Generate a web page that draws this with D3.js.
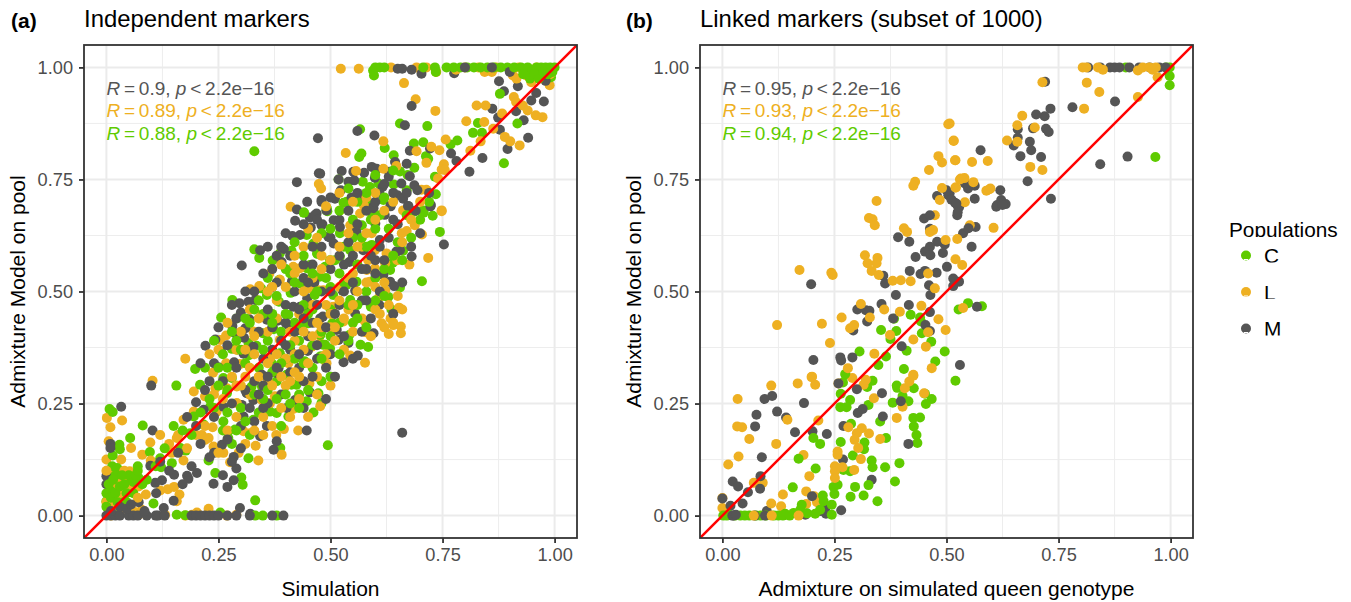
<!DOCTYPE html>
<html>
<head>
<meta charset="utf-8">
<script src="https://cdn.jsdelivr.net/npm/d3@7"></script>
<style>
body { margin: 0; background: #fff; }
text { font-family: "Liberation Sans", Arial, sans-serif; }
</style>
</head>
<body>
<div id="chart"></div>
<script>
const tickValues = [0, 0.25, 0.5, 0.75, 1];
const minorValues = [0.125, 0.375, 0.625, 0.875];
const populations = ["C", "L", "M"];
const colors = { C: "#5fcb00", L: "#eeb022", M: "#555555" };

// panel a, population M
const aGrey = [[.472,.842],[.474,.764],[.425,.744],[.876,.969],[.887,.947],[.918,.958],[.959,.943],[.948,.926],[.976,.924],[.861,.908],[.914,.902],[.874,.888],[.931,.882],[.878,.861],[.941,.843],[.895,.818],[.839,.798],[.769,.808],[.781,.791],[.81,.767],[.65,.997],[.66,.997],[.681,.995],[.703,.986],[.776,.987],[.681,.914],[.666,.871],[.56,.858],[.598,.848],[.677,.814],[.722,.819],[.644,.789],[.67,.785],[.525,.769],[.592,.778],[.603,.774],[.575,.765],[.551,.767],[.477,.763],[.631,.767],[.63,.756],[.599,.754],[.518,.75],[.54,.745],[.553,.748],[.677,.757],[.658,.741],[.687,.737],[.694,.726],[.616,.733],[.609,.72],[.523,.726],[.51,.707],[.547,.71],[.573,.705],[.649,.715],[.662,.707],[.634,.691],[.724,.693],[.673,.691],[.595,.689],[.48,.704],
[.302,.558],[.343,.592],[.425,.683],[.421,.658],[.448,.7],[.454,.665],[.469,.674],[.456,.643],[.482,.65],[.415,.624],[.432,.626],[.396,.595],[.391,.566],[.414,.523],[.462,.522],[.369,.509],[.297,.474],[.317,.477],[.332,.481],[.3,.453],[.319,.438],[.281,.423],[.31,.418],[.287,.407],[.307,.397],[.243,.393],[.221,.379],[.256,.366],[.285,.342],[.25,.331],[.306,.361],[.328,.377],[.358,.437],[.382,.435],[.406,.425],[.417,.466],[.448,.485],[.432,.466],[.477,.44],[.428,.414],[.41,.37],[.449,.368],[.421,.351],[.384,.329],[.48,.7],[.495,.622],[.491,.681],
[.723,.69],[.753,.605],[.681,.578],[.655,.592],[.618,.537],[.633,.522],[.642,.512],[.609,.47],[.596,.407],[.561,.357],[.529,.342],[.518,.392],[.54,.385],[.555,.451],[.555,.502],[.527,.502],[.464,.52],[.483,.444],[.514,.414],[.449,.368],[.542,.566],[.507,.607],[.521,.644],[.558,.633],[.507,.659],[.6,.652],[.621,.671],[.64,.66],[.596,.686],[.634,.69],[.674,.69],[.466,.671],[.454,.641],[.48,.648],[.61,.615],[.573,.592],[.647,.589],[.447,.466],
[.033,.243],[.1,.29],[.103,.19],[.009,.16],[.009,.151],[.098,.111],[0,.088],[0,.07],[.124,.079],[.109,.073],[.111,.05],[.151,.091],[.18,.089],[.183,.082],[.202,.095],[.239,.071],[.27,.064],[.284,.079],[.29,.105],[.284,.131],[.258,.158],[.24,.14],[.072,.03],[.15,.033],[.128,.017],[.298,.017],[.321,.004],[.261,.243],[.302,.247],[.328,.258],[.2,.253],[.313,.273],[.217,.236],[.306,.221],[.343,.177],[.358,.2],[.373,.147],[.38,.166],[.447,.19],[.454,.275],[.402,.24],[.421,.258],[.347,.314],[.38,.318],[.66,.185],
[.35,.35],[.37,.37],[.39,.39],[.41,.32],[.43,.33],[.47,.35],[.5,.36],[.52,.47],[.5,.55],[.46,.43],[.48,.5],[.53,.56],[.55,.58],[.44,.56],[.46,.6],[.4,.47],[.37,.42],[.35,.29],[.39,.27],[.33,.21],[.36,.25],[.44,.3],[.49,.33],[.58,.55],[.57,.48],[.6,.57],
[.26,.3],[.28,.25],[.24,.22],[.3,.2],[.27,.17],[.33,.3],[.35,.24],[.31,.28],[.29,.33],[.34,.41],[.36,.46],[.38,.52],[.4,.43],[.42,.5],[.44,.53],[.41,.58],[.43,.46],[.45,.4],[.47,.38],[.49,.42],[.51,.45],[.53,.5],[.55,.52],[.57,.55],[.59,.58],[.61,.6],[.63,.62],[.65,.65],[.5,.5],[.52,.58],[.54,.61],[.56,.65],[.58,.68],[.6,.7],[.62,.74],[.48,.6],[.46,.56],[.5,.62],[.52,.66],[.44,.44],[.42,.41],[.4,.38],[.38,.33],[.36,.31],[.34,.27],[.32,.24],[.3,.15],[.28,.12],[.26,.09],[.23,.13],[.21,.16],[.19,.11],[.17,.07],[.2,.2],[.22,.28],[.18,.22],[.16,.14],[.14,.1],[.12,.12],[.24,.34],[.27,.38],[.29,.44],[.33,.5],[.37,.55],[.39,.6],[.35,.54],[.55,.35],[.57,.41],[.59,.44],[.61,.5],[.53,.4],[.51,.31],[.49,.26],[.46,.31],[.44,.24],[.43,.36],[.45,.52],[.47,.47],[.58,.48],[.6,.54],[.62,.57],[.64,.45],[.66,.52],[.68,.6],[.7,.63],[.72,.72],[.67,.72],[.69,.68],[.64,.72],[.56,.72],[.54,.68],[.5,.71],[.47,.66],[.44,.65],[.4,.63],[.38,.58],[.36,.6],[.31,.5],[.28,.47],[.25,.42],[.23,.3],[.21,.34],
[0,0],[.01,0],[.02,0],[.03,0],[.05,0],[.06,0],[.07,0],[.09,0],[.11,0],[.115,0],[.13,0],[.19,0],[.2,0],[.21,0],[.22,0],[.23,0],[.24,0],[.25,0],[.27,0],[.29,0],[.32,0],[.37,0],[.395,0],[.01,.01],[.03,.02],[.045,.015],[.055,.025],[.085,.01],[.8,1],[.86,1],[.9,.99],[.955,.99],[.98,.97]];

// panel a, population L
const aOrange = [[.523,.997],[.563,.997],[.635,1],[.692,1],[.714,1],[.736,.99],[.844,.99],[.86,.99],[.907,.982],[.915,.975],[.937,.982],[.948,.967],[.989,.96],[.664,.965],[.69,.929],[.734,.903],[.826,.915],[.846,.915],[.909,.934],[.914,.923],[.929,.915],[.94,.904],[.803,.88],[.843,.878],[.883,.897],[.958,.893],[.973,.889],[.863,.863],[.889,.845],[.901,.835],[.922,.826],[.835,.835],[.812,.814],[.757,.839],[.725,.823],[.743,.815],[.692,.813],[.618,.835],[.534,.809],[.714,.787],[.753,.784],[.748,.772],[.755,.771],[.647,.78],[.618,.774],[.557,.769],[.703,.727],[.714,.727],[.74,.752],[.479,.73],[.748,.681],[.662,.681],[.474,.74],
[.411,.689],[.363,.539],[.341,.512],[.321,.505],[.347,.448],[.328,.411],[.267,.402],[.254,.392],[.176,.35],[.267,.34],[.298,.338],[.387,.392],[.387,.526],[.365,.451],[.451,.507],[.484,.503],[.417,.555],[.432,.552],[.477,.385],[.458,.377],[.406,.34],[.365,.351],[.491,.34],[.336,.481],
[.748,.679],[.688,.648],[.704,.627],[.659,.63],[.67,.635],[.718,.575],[.676,.56],[.625,.585],[.649,.57],[.622,.563],[.584,.57],[.599,.552],[.581,.548],[.588,.522],[.622,.503],[.607,.485],[.653,.464],[.634,.44],[.614,.429],[.64,.425],[.657,.422],[.63,.405],[.657,.407],[.578,.409],[.577,.433],[.506,.466],[.544,.357],[.577,.341],[.476,.407],[.484,.355],[.529,.433],[.566,.674],[.521,.681],[.574,.693],[.544,.648],[.454,.511],[.473,.503],[.599,.592],[.592,.63],
[.103,.301],[.001,.218],[.035,.212],[.009,.197],[.005,.166],[.055,.151],[.098,.163],[0,.125],[.033,.125],[.052,.099],[.08,.136],[.099,.123],[.011,.091],[.072,.065],[.088,.047],[.12,.056],[.137,.059],[.151,.064],[.163,.047],[.157,.032],[.005,.022],[.027,.047],[.031,.028],[.079,.013],[.072,.002],[.131,.002],[.176,0],[.191,.002],[.202,.007],[.228,.015],[.269,0],[.29,.002],[.157,.173],[.172,.214],[.195,.232],[.22,.169],[.213,.18],[.228,.173],[.172,.123],[.146,.14],[.195,.277],[.238,.319],[.243,.284],[.22,.266],[.269,.284],[.246,.232],[.237,.197],[.261,.14],[.276,.119],[.295,.14],[.239,.154],[.306,.188],[.321,.184],[.333,.156],[.339,.123],[.379,.18],[.391,.136],[.396,.193],[.428,.19],[.477,.244],[.453,.295],[.417,.238],[.376,.266],[.347,.258],[.291,.251],[.321,.269],[.291,.288],[.365,.251],
[.36,.3],[.41,.41],[.43,.45],[.46,.47],[.52,.51],[.55,.54],[.57,.6],[.5,.42],[.42,.36],[.38,.44],[.33,.36],[.31,.31],[.29,.37],[.36,.41],[.48,.58],[.44,.6],[.4,.29],[.5,.29],[.54,.46],[.6,.46],[.62,.52],[.47,.27],[.42,.32],
[.25,.14],[.27,.19],[.29,.22],[.31,.16],[.33,.19],[.35,.22],[.37,.2],[.39,.24],[.41,.22],[.43,.26],[.45,.22],[.47,.31],[.49,.36],[.51,.39],[.53,.37],[.55,.41],[.57,.44],[.59,.4],[.61,.45],[.63,.47],[.65,.49],[.6,.51],[.58,.52],[.56,.5],[.54,.53],[.52,.48],[.5,.45],[.48,.42],[.46,.4],[.44,.37],[.42,.39],[.4,.35],[.38,.36],[.36,.34],[.34,.31],[.32,.33],[.3,.29],[.28,.31],[.26,.26],[.24,.27],[.22,.2],[.2,.18],[.18,.15],[.16,.18],[.14,.16],[.12,.18],[.23,.36],[.25,.37],[.27,.43],[.3,.41],[.32,.46],[.34,.44],[.36,.5],[.38,.48],[.4,.51],[.42,.54],[.44,.5],[.46,.53],[.48,.55],[.5,.57],[.52,.6],[.54,.63],[.56,.6],[.58,.63],[.6,.66],[.62,.68],[.64,.7],[.66,.61],[.68,.66],[.7,.7],[.6,.72],[.58,.71],[.55,.7],[.52,.72],[.49,.69],[.47,.62],[.45,.64],[.42,.58],[.39,.56],[.37,.51],[.33,.4],[.31,.37],[.29,.29],[.41,.3],[.43,.31],[.45,.34],[.47,.43],[.49,.47],[.51,.42],[.53,.44],[.55,.47],[.62,.42],[.64,.43],[.66,.46],[.35,.18],[.37,.29],[.39,.31],[.44,.41],
[.01,0],[.025,.005],[.04,.015],[.015,.06],[.02,.075],[.005,.045],[.05,.06],[.035,.08],[.06,.01],[.0,.03],[.0,.1],[.015,.02],[.03,.05],[.04,.1],[.07,.04],[.8,1],[.83,1],[.87,1],[.92,1],[.96,1],[.975,.975],[.99,.985],[.78,.995],[.9,.995],[.94,.995]];

// panel a, population C
const aGreen = [[.33,.813],[.566,.862],[.655,.875],[.716,.869],[.621,.82],[.641,.804],[.686,.83],[.707,.833],[.569,.808],[.564,.8],[.713,.802],[.718,.796],[.768,.828],[.783,.837],[.818,.854],[.838,.854],[.829,.876],[.917,.875],[.887,.786],[.878,.941],[.992,.978],[.687,.776],[.672,.76],[.655,.768],[.733,.756],[.735,.717],[.67,.726],[.641,.739],[.588,.733],[.572,.745],[.607,.741],[.618,.704],[.536,.7],[.518,.75],[.566,.711],[.592,.696],[.492,.685],[.707,.681],
[.33,.594],[.341,.575],[.371,.569],[.413,.591],[.387,.585],[.44,.676],[.447,.626],[.462,.607],[.491,.681],[.471,.584],[.447,.552],[.386,.526],[.345,.507],[.281,.481],[.256,.442],[.291,.44],[.358,.492],[.385,.477],[.411,.497],[.465,.496],[.373,.416],[.349,.407],[.335,.379],[.28,.372],[.292,.37],[.317,.385],[.318,.358],[.198,.327],[.406,.448],[.447,.429],[.477,.403],[.488,.381],[.369,.34],[.442,.344],[.387,.362],[.477,.355],[.432,.518],[.488,.555],[.454,.559],
[.744,.633],[.728,.669],[.708,.676],[.686,.678],[.441,.676],[.662,.591],[.639,.564],[.633,.548],[.704,.523],[.655,.509],[.629,.488],[.636,.46],[.59,.466],[.577,.481],[.544,.481],[.584,.376],[.567,.381],[.542,.403],[.504,.429],[.499,.373],[.48,.355],[.483,.381],[.443,.344],[.477,.403],[.521,.63],[.57,.648],[.493,.679],[.47,.585],[.544,.592],[.521,.578],[.499,.57],[.476,.533],[.447,.526],[.558,.522],[.536,.515],[.465,.492],[.506,.492],[.451,.429],[.592,.604],[.592,.675],[.529,.698],
[.156,.29],[.007,.238],[.014,.231],[.081,.201],[.053,.173],[.029,.158],[.03,.148],[.014,.134],[.097,.142],[.12,.128],[.146,.117],[.122,.108],[.165,.151],[.177,.145],[.013,.11],[.024,.106],[.072,.084],[.053,.08],[.005,.08],[.031,.073],[.016,.065],[.005,.05],[.042,.054],[0,.032],[.016,.032],[.105,.027],[.243,.095],[.228,.123],[.301,.085],[.304,.069],[.332,.034],[.317,.128],[.388,.151],[.494,.157],[.462,.23],[.48,.251],[.473,.273],[.447,.255],[.406,.221],[.38,.229],[.365,.232],[.328,.214],[.272,.173],[.272,.188],[.287,.192],[.261,.21],[.232,.244],[.217,.203],[.195,.221],[.187,.184],[.209,.292],[.269,.273],[.261,.307],[.28,.307],[.324,.288],[.347,.288],[.343,.262],[.402,.314],[.413,.292],[.424,.292],
[.39,.41],[.42,.43],[.36,.39],[.34,.33],[.38,.3],[.46,.46],[.5,.51],[.52,.54],[.56,.56],[.43,.39],[.4,.35],[.31,.34],[.27,.33],[.35,.45],[.41,.54],[.44,.47],[.5,.46],[.55,.43],[.58,.6],[.6,.64],[.48,.3],[.43,.27],[.55,.62],[.53,.52],[.42,.61],[.37,.45],
[.24,.24],[.26,.19],[.28,.16],[.3,.24],[.32,.18],[.34,.23],[.36,.28],[.38,.26],[.4,.27],[.42,.35],[.44,.34],[.46,.38],[.48,.41],[.5,.4],[.52,.43],[.54,.47],[.56,.47],[.58,.5],[.6,.53],[.62,.55],[.64,.58],[.66,.57],[.68,.62],[.7,.66],[.72,.7],[.67,.67],[.65,.61],[.63,.64],[.61,.67],[.59,.66],[.57,.62],[.55,.66],[.53,.6],[.51,.57],[.49,.53],[.47,.5],[.45,.45],[.43,.42],[.41,.38],[.39,.34],[.37,.32],[.35,.26],[.33,.27],[.31,.21],[.29,.19],[.27,.23],[.25,.29],[.23,.26],[.21,.23],[.19,.18],[.17,.19],[.15,.2],[.13,.15],[.11,.11],[.09,.08],[.07,.11],[.22,.33],[.24,.39],[.26,.36],[.28,.41],[.3,.37],[.32,.43],[.34,.48],[.36,.53],[.38,.49],[.4,.55],[.42,.52],[.44,.58],[.46,.54],[.48,.63],[.5,.64],[.52,.68],[.54,.73],[.56,.7],[.58,.72],[.6,.76],[.62,.71],[.64,.77],[.46,.33],[.48,.35],[.5,.31],[.52,.36],[.54,.39],[.56,.44],[.58,.42],[.6,.48],[.62,.49],[.39,.2],[.41,.25],[.43,.24],[.45,.28],[.35,.37],[.33,.46],[.31,.44],[.29,.39],[.27,.28],[.25,.33],[.37,.43],[.4,.45],
[.157,.002],[.176,.001],[.254,.007],[.332,0],[.349,0],[.38,0],[.01,.01],[.02,.02],[.035,.04],[.01,.055],[.02,.09],[.045,.03],[.06,.05],[0,.02],[0,.05],[.005,.07],[.01,.04],[.015,.08],[.02,.05],[.03,.065],[.04,.07],[.045,.05],[.05,.09],[.025,.03],[.035,.09],[.06,.075],[.065,.09],[.07,.1],[.08,.07],[.595,.993],[.61,1],[.597,.982],[.6,1],[.62,1],[.707,1],[.733,1],[.735,.99],[.759,1],[.775,1],[.79,1],[.805,1],[.82,1],[.835,1],[.85,1],[.865,1],[.88,1],[.895,1],[.91,1],[.925,1],[.94,1],[.95,.99],[.96,1],[.97,1],[.98,1],[.99,1],[.995,.99],[1,1],[.93,.985],[.945,.975],[.955,.985],[.965,.975],[.975,.99],[.985,.985]];

// panel b, population M
const bGrey = [[.111,.267],[.094,.26],[.182,.251],[.076,.225],[.122,.232],[.142,.219],[.073,.199],[.162,.186],[.201,.188],[.233,.182],[.088,.13],[.023,.076],[.035,.065],[.085,.088],[.084,.06],[.057,.052],[0,.038],[.018,.022],[.045,.027],[.099,.01],[.185,.002],[.218,.01],[.229,.013],[.231,.004],[.265,.012],[.2,.043],[.27,.2],[.302,.229],[.313,.238],[.358,.221],[.3,.282],[.356,.273],[.398,.255],[.415,.16],[.269,.125],[.333,.08],[.259,.295],
[.45,.663],[.524,.67],[.528,.688],[.611,.689],[.463,.64],[.537,.63],[.565,.644],[.392,.621],[.417,.611],[.479,.611],[.463,.6],[.496,.605],[.452,.589],[.464,.581],[.492,.586],[.556,.6],[.431,.577],[.501,.555],[.418,.546],[.442,.539],[.452,.546],[.478,.542],[.515,.529],[.528,.522],[.515,.512],[.461,.514],[.464,.492],[.387,.492],[.359,.535],[.363,.518],[.198,.516],[.355,.472],[.416,.47],[.301,.46],[.32,.458],[.328,.457],[.323,.433],[.292,.413],[.381,.44],[.463,.454],[.453,.425],[.463,.412],[.4,.378],[.203,.347],[.263,.353],[.265,.346],[.29,.353],[.53,.336],[.568,.466],
[.72,.968],[.732,.908],[.719,.891],[.7,.895],[.781,.911],[.876,.924],[.659,.862],[.693,.864],[.722,.863],[.728,.856],[.659,.843],[.65,.826],[.686,.834],[.689,.815],[.576,.815],[.665,.802],[.711,.8],[.843,.784],[.904,.801],[.681,.746],[.733,.707],[.541,.741],[.548,.73],[.563,.736],[.62,.726],[.563,.707],[.622,.704],[.632,.695],[.613,.693],[.519,.698],[.526,.689],[.507,.719],[.479,.713],[.5,.726],[.504,.715],[.511,.705],[.522,.696],[.525,.677],[.549,.641],[.625,.693],[.463,.67],
[.022,0],[.025,0],[.03,.002],[.072,0],[.095,0],[.816,1],[.843,1],[.865,1],[.875,1],[.886,1],[.908,1],[.93,1],[.953,1],[.975,1],[.989,1]];

// panel b, population L
const bOrange = [[.034,.26],[.033,.199],[.044,.197],[.06,.171],[.036,.132],[.013,.114],[0,.039],[0,.017],[.07,.073],[.09,.073],[.109,.29],[.168,.295],[.199,.309],[.207,.292],[.12,.16],[.145,.214],[.181,.135],[.194,.088],[.135,.047],[.109,.027],[.131,.021],[.187,.054],[.187,.026],[.205,.043],[.211,.03],[.214,.212],[.259,.295],[.29,.307],[.315,.292],[.32,.303],[.338,.262],[.402,.243],[.389,.218],[.407,.284],[.417,.299],[.426,.312],[.45,.273],[.281,.197],[.3,.184],[.311,.195],[.327,.183],[.295,.169],[.352,.171],[.303,.151],[.257,.143],[.257,.136],[.309,.126],[.251,.11],[.251,.099],[.268,.108],[.294,.102],[.251,.084],
[.335,.661],[.474,.67],[.412,.633],[.463,.633],[.47,.637],[.498,.615],[.524,.617],[.552,.648],[.605,.642],[.318,.581],[.346,.575],[.324,.563],[.344,.563],[.333,.546],[.349,.537],[.38,.524],[.398,.525],[.42,.523],[.459,.54],[.52,.572],[.535,.559],[.474,.507],[.172,.548],[.243,.542],[.246,.537],[.309,.472],[.361,.46],[.396,.455],[.444,.468],[.537,.463],[.266,.442],[.329,.442],[.122,.425],[.222,.428],[.294,.425],[.285,.418],[.482,.438],[.498,.414],[.459,.409],[.374,.403],[.426,.393],[.454,.377],[.24,.385],[.339,.361],[.467,.329],[.28,.329],[.426,.314],[.2,.31],
[.714,.967],[.813,.966],[.841,.945],[.807,.908],[.927,.934],[.971,.978],[.669,.892],[.658,.871],[.697,.866],[.635,.837],[.658,.834],[.516,.837],[.507,.875],[.52,.793],[.557,.789],[.592,.791],[.687,.778],[.714,.771],[.532,.752],[.521,.732],[.541,.699],[.589,.725],[.598,.73],
[.504,.873],[.516,.836],[.519,.793],[.482,.802],[.49,.788],[.461,.771],[.43,.745],[.426,.736],[.49,.731],[.52,.732],[.344,.702],[.53,.75],[.327,.664],[.34,.648],[.405,.641],[.485,.704],[.54,.753],[.56,.744],[.596,.728],
[.07,0],[.11,0],[.17,0],[.804,1],[.812,1],[.838,1],[.849,.995],[.927,.993],[.938,1],[.953,1],[.967,1],[.96,.995]];

// panel b, population C
const bGreen = [[.52,.301],[.275,.314],[.269,.297],[.335,.301],[.323,.287],[.264,.272],[.285,.258],[.263,.242],[.277,.242],[.326,.247],[.389,.29],[.39,.285],[.427,.284],[.402,.267],[.38,.252],[.415,.255],[.452,.272],[.467,.26],[.454,.249],[.352,.21],[.287,.205],[.426,.218],[.441,.219],[.427,.199],[.433,.18],[.435,.162],[.365,.173],[.264,.164],[.317,.163],[.316,.148],[.291,.134],[.333,.123],[.335,.108],[.363,.108],[.395,.117],[.385,.076],[.326,.068],[.296,.064],[.286,.042],[.315,.045],[.346,.032],[.25,.048],[.248,.064],[.257,.069],[.27,.102],[.285,.099],[.203,.173],[.218,.16],[.17,.127],[.208,.105],[.157,.063],[.224,.045],[.226,.032],[.244,.024],[.177,.024],[.174,.013],[.159,.006],[.14,.004],[.218,.013],[.207,.004],[.244,.002],[.189,.005],
[.306,.366],[.365,.355],[.348,.336],[.405,.327],[.411,.368],[.475,.344],[.496,.366],[.466,.388],[.445,.407],[.443,.433],[.441,.442],[.42,.448],[.383,.439],[.354,.414],[.388,.412],[.375,.394],[.274,.316],[.527,.46],[.548,.474],[.579,.467],
[.966,.8],[.998,.96],[.998,.981],[.998,1],[.9,1],[.99,1],
[.002,0],[.01,0],[.015,.002],[.028,0],[.04,0],[.05,0],[.06,0],[.075,0],[.085,0],[.097,0],[.115,0],[.125,0],[.135,0],[.15,0]];

const aSeries = { C: aGreen, L: aOrange, M: aGrey };
const bSeries = { C: bGreen, L: bOrange, M: bGrey };
const aLabels = [["0.9", "M"], ["0.89", "L"], ["0.88", "C"]];
const bLabels = [["0.95", "M"], ["0.93", "L"], ["0.94", "C"]];

const svg = d3.select("#chart").append("svg")
    .attr("width", 1351)
    .attr("height", 602);

// mix the populations so none of them sits fully on top
function mixed(series) {
    let out = [];
    let n = d3.max(populations, p => series[p].length);
    for (let i = 0; i < n; i++) {
        ["M", "L", "C"].forEach(p => {
            if (i < series[p].length) out.push({ pop: p, x: series[p][i][0], y: series[p][i][1] });
        });
    }
    return out;
}

function drawPanel(left, tag, tagX, title, xTitle, series, labels, clipId) {
    const top = 45, size = 493;
    const x = d3.scaleLinear().domain([-0.05, 1.05]).range([left, left + size]);
    const y = d3.scaleLinear().domain([-0.05, 1.05]).range([top + size, top]);
    const g = svg.append("g");

    // grid
    g.selectAll(".minorx").data(minorValues).enter().append("line")
        .attr("x1", d => x(d)).attr("x2", d => x(d))
        .attr("y1", top).attr("y2", top + size)
        .attr("stroke", "#ededed").attr("stroke-width", 1);
    g.selectAll(".minory").data(minorValues).enter().append("line")
        .attr("y1", d => y(d)).attr("y2", d => y(d))
        .attr("x1", left).attr("x2", left + size)
        .attr("stroke", "#ededed").attr("stroke-width", 1);
    g.selectAll(".majorx").data(tickValues).enter().append("line")
        .attr("x1", d => x(d)).attr("x2", d => x(d))
        .attr("y1", top).attr("y2", top + size)
        .attr("stroke", "#ebebeb").attr("stroke-width", 2);
    g.selectAll(".majory").data(tickValues).enter().append("line")
        .attr("y1", d => y(d)).attr("y2", d => y(d))
        .attr("x1", left).attr("x2", left + size)
        .attr("stroke", "#ebebeb").attr("stroke-width", 2);

    svg.append("clipPath").attr("id", clipId).append("rect")
        .attr("x", left).attr("y", top).attr("width", size).attr("height", size);

    // points
    g.append("g").selectAll("circle")
        .data(mixed(series))
        .enter()
        .append("circle")
        .attr("cx", d => x(d.x))
        .attr("cy", d => y(d.y))
        .attr("r", 5)
        .attr("fill", d => colors[d.pop]);

    // y = x
    g.append("line")
        .attr("clip-path", "url(#" + clipId + ")")
        .attr("x1", x(-0.05)).attr("y1", y(-0.05))
        .attr("x2", x(1.05)).attr("y2", y(1.05))
        .attr("stroke", "#ff0000").attr("stroke-width", 2.5);

    // R labels
    labels.forEach((l, i) => {
        let t = g.append("text")
            .attr("x", x(0))
            .attr("y", 94.5 + i * 22.7)
            .attr("font-size", 19)
            .attr("fill", colors[l[1]]);
        t.append("tspan").attr("font-style", "italic").text("R");
        t.append("tspan").text("\u2009=\u2009" + l[0] + ", ");
        t.append("tspan").attr("font-style", "italic").text("p");
        t.append("tspan").text("\u2009<\u20092.2e\u221216");
    });

    // border
    g.append("rect")
        .attr("x", left).attr("y", top).attr("width", size).attr("height", size)
        .attr("fill", "none").attr("stroke", "#333333").attr("stroke-width", 1.8);

    // axes
    const xAxis = g.append("g")
        .attr("transform", "translate(0," + (top + size) + ")")
        .call(d3.axisBottom(x).tickValues(tickValues).tickFormat(d3.format(".2f")).tickSize(5).tickPadding(5));
    const yAxis = g.append("g")
        .attr("transform", "translate(" + left + ",0)")
        .call(d3.axisLeft(y).tickValues(tickValues).tickFormat(d3.format(".2f")).tickSize(5).tickPadding(6));
    [xAxis, yAxis].forEach(a => {
        a.select(".domain").remove();
        a.selectAll("line").attr("stroke", "#333333").attr("stroke-width", 1.8);
        a.selectAll("text").attr("fill", "#4d4d4d").attr("font-size", 18.2)
            .style("font-family", '"Liberation Sans", Arial, sans-serif');
    });

    // titles
    g.append("text").attr("x", left + size / 2).attr("y", 596)
        .attr("text-anchor", "middle").attr("font-size", 21).text(xTitle);
    g.append("text")
        .attr("transform", "translate(" + (left - 59) + "," + (top + size / 2) + ") rotate(-90)")
        .attr("text-anchor", "middle").attr("font-size", 21).text("Admixture Model on pool");
    g.append("text").attr("x", left).attr("y", 27).attr("font-size", 23.9).text(title);
    g.append("text").attr("x", tagX).attr("y", 28)
        .attr("font-size", 21).attr("font-weight", "bold").text(tag);
}

drawPanel(84, "(a)", 11, "Independent markers", "Simulation", aSeries, aLabels, "clipA");
drawPanel(700, "(b)", 626, "Linked markers (subset of 1000)", "Admixture on simulated queen genotype", bSeries, bLabels, "clipB");

// legend, the export cut the lower edge of its rows
const legendY = d3.scalePoint().domain(populations).range([256, 329]);
svg.append("clipPath").attr("id", "clipTitle").append("rect")
    .attr("x", 1200).attr("y", 210).attr("width", 151).attr("height", 27);
svg.append("text").attr("x", 1229).attr("y", 237)
    .attr("font-size", 20.8).attr("clip-path", "url(#clipTitle)").text("Populations");

populations.forEach(p => {
    let cy = legendY(p);
    let id = "clipKey" + p;
    svg.append("clipPath").attr("id", id).append("rect")
        .attr("x", 1200).attr("y", cy - 16).attr("width", 151).attr("height", 22.5);
    svg.append("circle").attr("cx", 1246).attr("cy", cy - 0.5).attr("r", 5).attr("fill", colors[p]);
    svg.append("rect").attr("x", 1244).attr("y", cy + 3).attr("width", 4).attr("height", 1).attr("fill", "#fff");
    svg.append("text").attr("x", 1264).attr("y", cy + 7)
        .attr("font-size", 20.8).attr("clip-path", "url(#" + id + ")").text(p);
});
</script>
</body>
</html>
